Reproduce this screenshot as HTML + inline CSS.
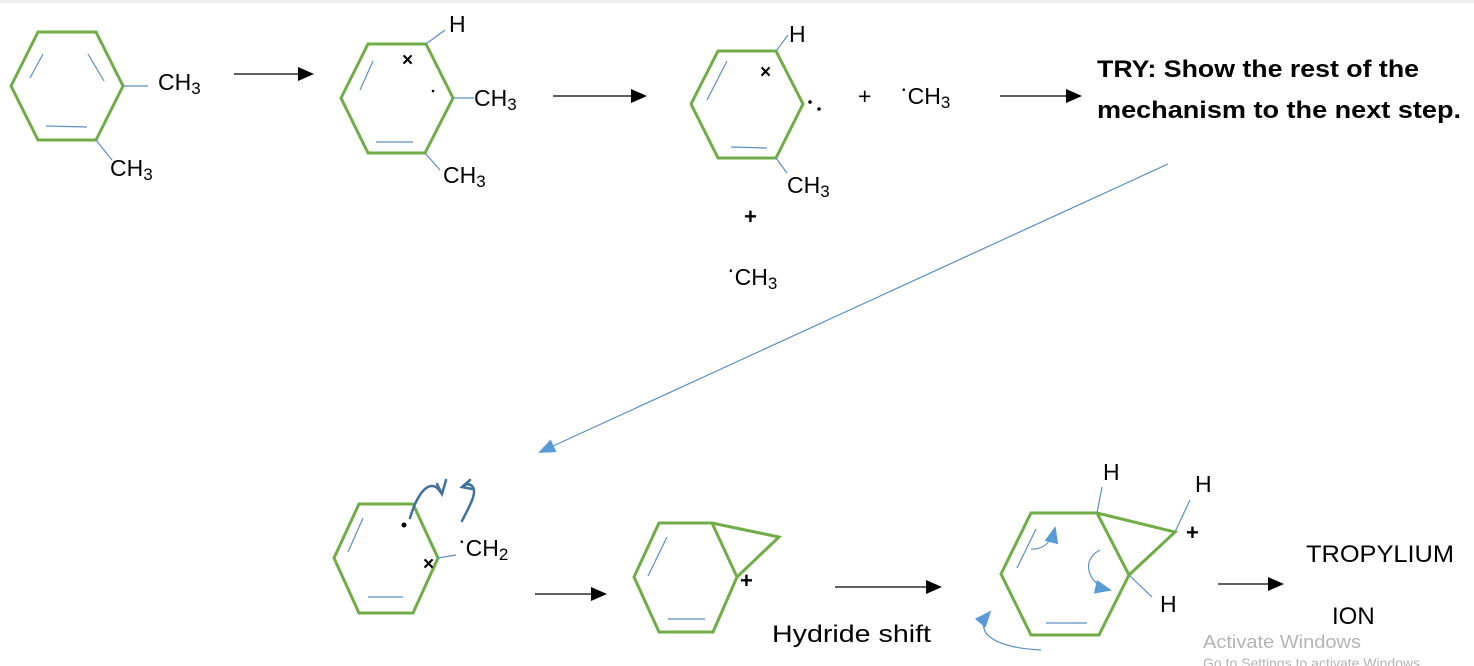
<!DOCTYPE html>
<html><head><meta charset="utf-8"><style>
html,body{margin:0;padding:0;background:#fff;}
svg{display:block;}
text{font-family:"Liberation Sans",sans-serif;fill:#000;}
</style></head><body>
<svg width="1474" height="666" viewBox="0 0 1474 666" xmlns="http://www.w3.org/2000/svg">
<defs>
<marker id="ah" markerWidth="16" markerHeight="14" refX="14" refY="7" orient="auto" markerUnits="userSpaceOnUse"><path d="M0,0 L16,7 L0,14 z" fill="#000"/></marker>
<marker id="bh" markerWidth="18" markerHeight="16" refX="15" refY="8" orient="auto" markerUnits="userSpaceOnUse"><path d="M0,1 L17,8 L0,15 z" fill="#5b9bd5"/></marker>
</defs>
<rect x="0" y="0" width="1474" height="3" fill="#eee"/>
<g fill="none" stroke="#70ad47" stroke-width="3" stroke-linejoin="miter">
<polygon points="11,86 38,32 96,32 123,86 96,140 38,140"/>
<polygon points="341,98 368,44 426,44 453,98 425,153 368,153"/>
<polygon points="691,104 718,51 776,51 803,104 776,158 718,158"/>
<polygon points="334,558 359,504 413,504 438,558 413,613 359,613"/>
<polygon points="634,577 659,523 712,523 737,577 713,632 659,632"/>
<polyline points="712,523 779,537 737,577"/>
<polygon points="1001,574 1031,513 1097,513 1129,575 1099,635 1031,635"/>
<polyline points="1097,513 1175,532 1129,575"/>
</g>
<g stroke="#5b8fc4" stroke-width="1.2" fill="none">
<line x1="30" y1="78" x2="43" y2="54"/><line x1="88" y1="54" x2="104" y2="81"/><line x1="46" y1="126" x2="87" y2="127"/>
<line x1="123" y1="86" x2="148" y2="86"/><line x1="96" y1="140" x2="112" y2="160"/>
<line x1="360" y1="90" x2="373" y2="61"/><line x1="376" y1="142" x2="413" y2="142"/>
<line x1="426" y1="44" x2="445" y2="30"/><line x1="453" y1="98" x2="474" y2="98"/><line x1="425" y1="153" x2="440" y2="170"/>
<line x1="707" y1="100" x2="727" y2="61"/><line x1="731" y1="147" x2="767" y2="148"/>
<line x1="776" y1="51" x2="788" y2="35"/><line x1="776" y1="158" x2="787" y2="173"/>
<line x1="348" y1="552" x2="363" y2="518"/><line x1="368" y1="597" x2="403" y2="597"/><line x1="438" y1="558" x2="456" y2="555"/>
<line x1="648" y1="576" x2="667" y2="537"/><line x1="668" y1="619" x2="705" y2="619"/>
<line x1="1017" y1="568" x2="1036" y2="529"/><line x1="1046" y1="623" x2="1087" y2="623"/>
<line x1="1097" y1="513" x2="1102" y2="487"/><line x1="1175" y1="532" x2="1190" y2="500"/><line x1="1129" y1="575" x2="1152" y2="597"/>
<line x1="1168" y1="164" x2="540" y2="452" marker-end="url(#bh)"/>
<path d="M1031,549 C1045,550 1052,540 1055,528" marker-end="url(#bh)"/>
<path d="M1100,550 C1080,560 1088,585 1110,590" marker-end="url(#bh)"/>
<path d="M1041,650 C1000,648 970,635 990,612" marker-end="url(#bh)"/>
</g>
<g stroke="#41719c" stroke-width="2.5" fill="none" stroke-linecap="round">
<path d="M410,518 C416,498 424,486 432,486 C438,486 440,492 442,494"/>
<path d="M437,484 L442,494 L446,480"/>
<path d="M462,521 C470,505 478,492 472,486 C469,483 465,484 462,487"/>
<path d="M470,480 L462,487 L472,489"/>
</g>
<g stroke="#000" stroke-width="1.3">
<line x1="234" y1="74" x2="312" y2="74" marker-end="url(#ah)"/>
<line x1="553" y1="96" x2="645" y2="96" marker-end="url(#ah)"/>
<line x1="1000" y1="96" x2="1080" y2="96" marker-end="url(#ah)"/>
<line x1="535" y1="594" x2="605" y2="594" marker-end="url(#ah)"/>
<line x1="835" y1="587" x2="940" y2="587" marker-end="url(#ah)"/>
<line x1="1218" y1="584" x2="1282" y2="584" marker-end="url(#ah)"/>
</g>
<g font-size="23">
<text x="158" y="90">CH<tspan font-size="17" dy="4">3</tspan></text>
<text x="110" y="176">CH<tspan font-size="17" dy="4">3</tspan></text>
<text x="449" y="32">H</text>
<text x="474" y="106">CH<tspan font-size="17" dy="4">3</tspan></text>
<text x="443" y="183">CH<tspan font-size="17" dy="4">3</tspan></text>
<text x="789" y="42">H</text>
<text x="787" y="193">CH<tspan font-size="17" dy="4">3</tspan></text>
<text x="858" y="104">+</text>
<text x="900" y="104"><tspan dy="-8">·</tspan><tspan dy="8">CH</tspan><tspan font-size="17" dy="4">3</tspan></text>
<text x="727" y="285"><tspan dy="-8">·</tspan><tspan dy="8">CH</tspan><tspan font-size="17" dy="4">3</tspan></text>
<text x="458" y="556"><tspan dy="-8">·</tspan><tspan dy="8">CH</tspan><tspan font-size="17" dy="4">2</tspan></text>
<text x="1103" y="480">H</text>
<text x="1195" y="492">H</text>
<text x="1160" y="612">H</text>
</g>
<g font-size="22" font-weight="bold">
<text x="744" y="224">+</text>
<text x="740" y="588">+</text>
<text x="1186" y="540">+</text>
</g>
<g font-size="19" font-weight="bold">
<text x="402" y="66">×</text>
<text x="760" y="78">×</text>
<text x="423" y="570">×</text>
</g>
<circle cx="433" cy="91" r="1.3" fill="#000"/>
<circle cx="810" cy="102" r="1.8" fill="#000"/><circle cx="819" cy="109" r="1.8" fill="#000"/>
<circle cx="404" cy="525" r="2.5" fill="#000"/>
<text x="1097" y="77" font-size="24" font-weight="bold" textLength="322" lengthAdjust="spacingAndGlyphs">TRY: Show the rest of the</text>
<text x="1097" y="118" font-size="24" font-weight="bold" textLength="364" lengthAdjust="spacingAndGlyphs">mechanism to the next step.</text>
<text x="772" y="642" font-size="24" textLength="159" lengthAdjust="spacingAndGlyphs">Hydride shift</text>
<text x="1306" y="562" font-size="24" textLength="148" lengthAdjust="spacingAndGlyphs">TROPYLIUM</text>
<text x="1332" y="624" font-size="24">ION</text>
<text x="1203" y="648" font-size="18" style="fill:#b4b4b4" textLength="158" lengthAdjust="spacingAndGlyphs">Activate Windows</text>
<text x="1203" y="668" font-size="14" style="fill:#b4b4b4">Go to Settings to activate Windows.</text>
</svg>
</body></html>
